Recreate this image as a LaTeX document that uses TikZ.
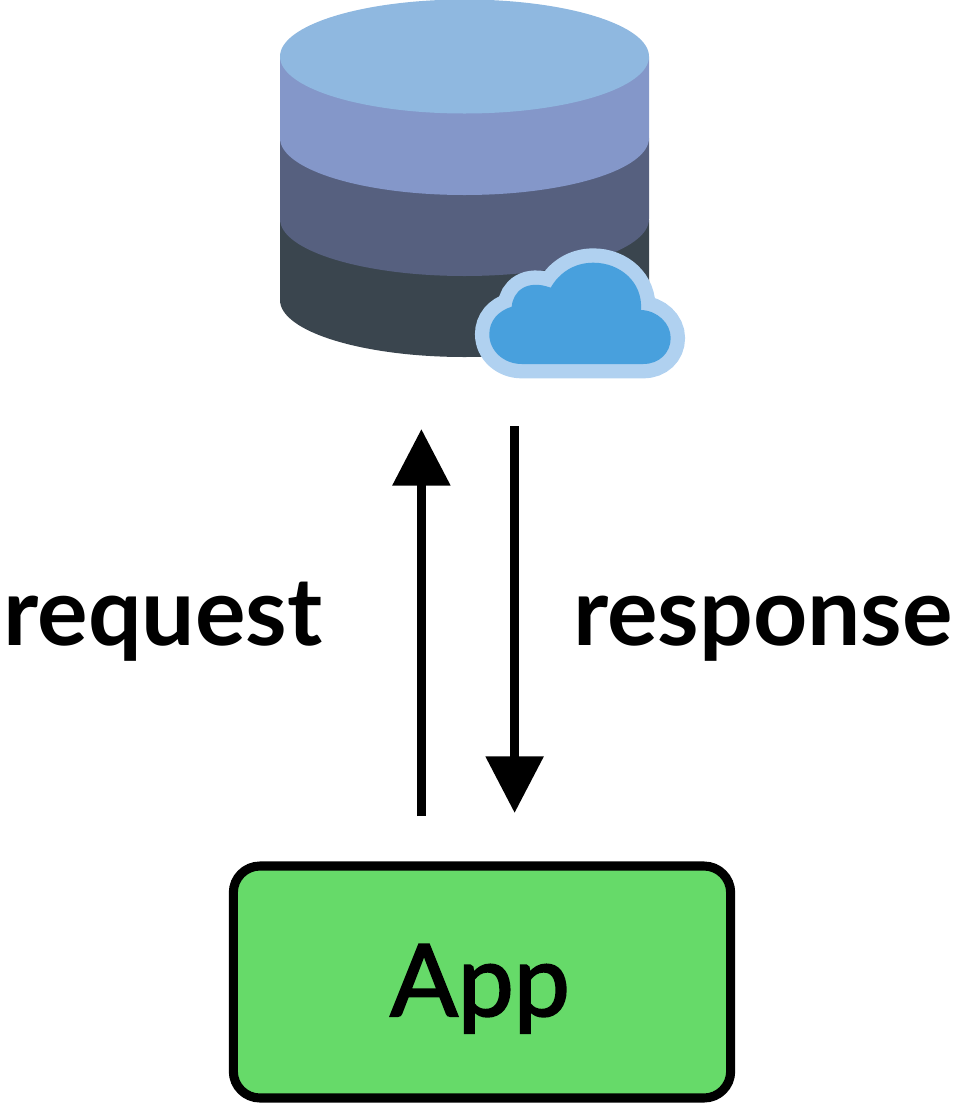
\documentclass[tikz,border=0pt]{standalone}
\usepackage{fontspec}
\setmainfont{Lato}
\newfontfamily\appfont[FakeBold=2]{Lato}
\usetikzlibrary{arrows.meta}
\definecolor{layerA}{HTML}{8FB8E0}
\definecolor{layerB}{HTML}{8497C9}
\definecolor{layerC}{HTML}{56607F}
\definecolor{layerD}{HTML}{3A454E}
\definecolor{cloudIn}{HTML}{48A0DD}
\definecolor{cloudOut}{HTML}{B0D1F0}
\definecolor{appgreen}{HTML}{66DA69}
\tikzset{
	bigarrow/.style={line width=6.9pt, -{Triangle[length=42.5pt, width=42pt]}},
	appbox/.style={draw, line width=6.8pt, fill=appgreen, rounded corners=20pt, minimum width=373pt, minimum height=174pt},
	biglabel/.style={anchor=base, font=\fontsize{71}{71}\selectfont\bfseries}
}
\def\layer#1#2#3{\fill[#1] (280, #2) -- (280, #3) arc (180:0:184.5 and 57) -- (649, #2) -- cycle;}
\def\cloudpath{(521.7, 364) -- (643.3, 364) .. controls (659, 364) and (670.7, 353) .. (670.7, 338) .. controls (670.7, 323) and (657, 310.5) .. (641, 310) .. controls (643, 282) and (620, 262.7) .. (593.3, 262.7) .. controls (574, 262.7) and (559, 273) .. (550.7, 287.7) .. controls (527, 279) and (513, 291) .. (511.7, 306.7) .. controls (498, 311) and (489.3, 321) .. (489.3, 334.3) .. controls (489.3, 351) and (504, 364) .. (521.7, 364) -- cycle}

\begin{document}
\begin{tikzpicture}[x=0.75pt, y=-0.75pt]
	%%%%% START %%%%%
	\useasboundingbox (0, 0) rectangle (960, 1104);

	\layer{layerD}{220}{300}
	\layer{layerC}{138}{219}
	\layer{layerB}{56.5}{138}
	\fill[layerA] (464.5, 56.5) ellipse (184.5 and 57);

	\draw[cloudOut, line width=21.5pt, fill=cloudOut] \cloudpath;
	\fill[cloudIn] \cloudpath;

	\node[appbox] (app) at (482, 982) {};
	\node[anchor=base, font=\appfont\fontsize{75}{75}\selectfont] (applabel) at (480, 1016) {App};

	\coordinate (reqstart) at (421.4, 816);
	\coordinate (reqend) at (421.4, 429);
	\coordinate (respstart) at (514.6, 426);
	\coordinate (respend) at (514.6, 813);
	\draw[bigarrow] (reqstart) -- (reqend);
	\draw[bigarrow] (respstart) -- (respend);

	\node[biglabel] (request) at (163, 645) {request};
	\node[biglabel] (response) at (763, 645) {response};
	%%%%% END %%%%%
\end{tikzpicture}
\end{document}
